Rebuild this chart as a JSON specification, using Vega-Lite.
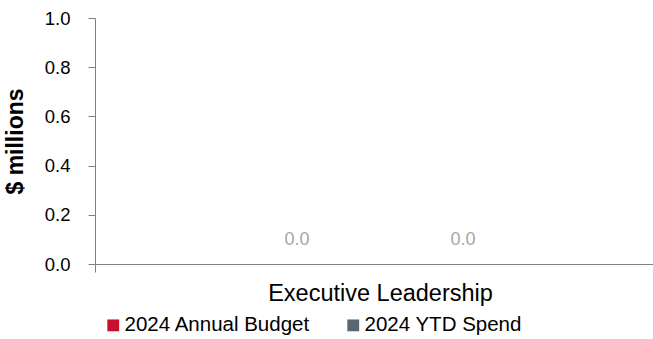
{
  "$schema": "https://vega.github.io/schema/vega-lite/v6.json",
  "autosize": "none",
  "padding": {"left": 95, "top": 18, "right": 0, "bottom": 75},
  "width": 570,
  "height": 246,
  "background": "white",
  "config": {
    "font": "Liberation Sans",
    "view": {"stroke": null}
  },
  "data": {
    "values": [
      {"category": "Executive Leadership", "series": "2024 Annual Budget", "value": 0.0},
      {"category": "Executive Leadership", "series": "2024 YTD Spend", "value": 0.0}
    ]
  },
  "encoding": {
    "x": {
      "field": "category",
      "type": "nominal",
      "scale": {"paddingInner": 0, "paddingOuter": 0},
      "axis": {
        "title": null,
        "labelAngle": 0,
        "labelFontSize": 23.5,
        "labelColor": "#000000",
        "labelPadding": 9,
        "labelLimit": 500,
        "domainColor": "#808080",
        "tickColor": "#808080",
        "tickBand": "extent",
        "tickSize": 8
      }
    },
    "xOffset": {
      "field": "series",
      "type": "nominal",
      "scale": {"paddingInner": 0, "paddingOuter": 0.717}
    },
    "y": {
      "field": "value",
      "type": "quantitative",
      "scale": {"domain": [0, 1]},
      "axis": {
        "title": "$ millions",
        "titleFontSize": 23,
        "titleFontWeight": "bold",
        "titleColor": "#000000",
        "titlePadding": 17,
        "values": [0, 0.2, 0.4, 0.6, 0.8, 1.0],
        "format": ".1f",
        "labelFontSize": 18.5,
        "labelColor": "#000000",
        "labelPadding": 18,
        "grid": false,
        "domainColor": "#808080",
        "tickColor": "#808080",
        "tickSize": 7
      }
    }
  },
  "layer": [
    {
      "mark": {"type": "bar", "width": 80},
      "encoding": {
        "color": {
          "field": "series",
          "type": "nominal",
          "scale": {"domain": ["2024 Annual Budget", "2024 YTD Spend"], "range": ["#C8102E", "#5B6770"]},
          "legend": {
            "title": null,
            "orient": "none",
            "direction": "horizontal",
            "legendX": 8,
            "legendY": 297,
            "padding": 0,
            "symbolType": "square",
            "symbolSize": 140,
            "symbolStrokeWidth": 0,
            "symbolOpacity": 1,
            "labelFontSize": 20.5,
            "labelColor": "#000000",
            "labelOffset": 1,
            "labelLimit": 400,
            "columnPadding": 32
          }
        }
      }
    },
    {
      "mark": {"type": "text", "dy": -24, "fontSize": 18, "color": "#A6A6A6"},
      "encoding": {
        "text": {"field": "value", "type": "quantitative", "format": ".1f"}
      }
    }
  ]
}
